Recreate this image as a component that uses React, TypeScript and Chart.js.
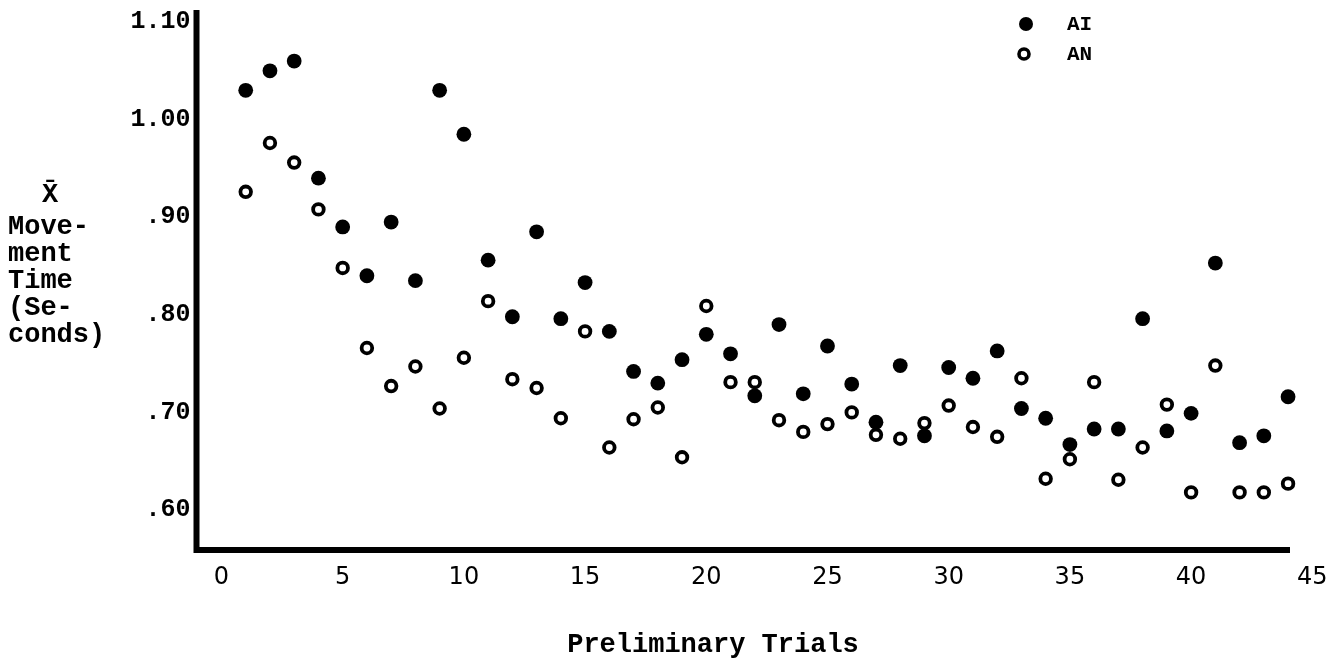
import React, { useEffect, useRef } from "react";
import { Chart, registerables } from "chart.js";

Chart.register(...registerables);

// ---- data ----
const trials = [
  1, 2, 3, 4, 5, 6, 7, 8, 9, 10, 11, 12, 13, 14, 15, 16, 17, 18, 19, 20, 21, 22,
  23, 24, 25, 26, 27, 28, 29, 30, 31, 32, 33, 34, 35, 36, 37, 38, 39, 40, 41, 42, 43, 44,
];
const aiValues = [
  1.03, 1.05, 1.06, 0.94, 0.89, 0.84, 0.895, 0.835, 1.03, 0.985, 0.856, 0.798, 0.885, 0.796,
  0.833, 0.783, 0.742, 0.73, 0.754, 0.78, 0.76, 0.717, 0.79, 0.719, 0.768, 0.729, 0.69, 0.748,
  0.676, 0.746, 0.735, 0.763, 0.704, 0.694, 0.667, 0.683, 0.683, 0.796, 0.681, 0.699, 0.853,
  0.669, 0.676, 0.716,
];
const anValues = [
  0.926, 0.976, 0.956, 0.908, 0.848, 0.766, 0.727, 0.747, 0.704, 0.756, 0.814, 0.734, 0.725,
  0.694, 0.783, 0.664, 0.693, 0.705, 0.654, 0.809, 0.731, 0.731, 0.692, 0.68, 0.688, 0.7,
  0.677, 0.673, 0.689, 0.707, 0.685, 0.675, 0.735, 0.632, 0.652, 0.731, 0.631, 0.664, 0.708,
  0.618, 0.748, 0.618, 0.618, 0.627,
];
const seriesNames = ["AI", "AN"];
const xTickValues = [0, 5, 10, 15, 20, 25, 30, 35, 40, 45];
const yTickValues = [0.6, 0.7, 0.8, 0.9, 1.0, 1.1];
const xTitle = "Preliminary Trials";
const yTitleLines = ["X\u0304", "Move-", "ment", "Time", "(Se-", "conds)"];

const X_MIN = -1.03;
const X_MAX = 44.08;
const Y_MIN = 0.559;
const Y_MAX = 1.1123;

const MONO = "'Liberation Mono', 'DejaVu Sans Mono', monospace";

const decorPlugin = {
  id: "decor",
  beforeDatasetsDraw(chart: any) {
    const { ctx, chartArea: a } = chart;
    ctx.save();
    ctx.strokeStyle = "#000";
    ctx.lineWidth = 6;
    ctx.lineJoin = "miter";
    ctx.lineCap = "butt";
    ctx.beginPath();
    ctx.moveTo(a.left, a.top);
    ctx.lineTo(a.left, a.bottom);
    ctx.lineTo(a.right, a.bottom);
    ctx.stroke();
    ctx.restore();
  },
  afterDraw(chart: any) {
    const { ctx } = chart;
    ctx.save();
    ctx.fillStyle = "#000";
    ctx.textBaseline = "middle";

    // y-axis title (horizontal, stacked lines)
    ctx.font = `bold 27px ${MONO}`;
    ctx.textAlign = "center";
    ctx.fillText(yTitleLines[0], 50, 195);
    ctx.textAlign = "left";
    for (let i = 1; i < yTitleLines.length; i++) {
      ctx.fillText(yTitleLines[i], 8, 227 + (i - 1) * 27);
    }

    // x-axis title
    ctx.textAlign = "center";
    ctx.font = `bold 27px ${MONO}`;
    ctx.fillText(xTitle, 713, 645);

    // legend
    const lx = 1026;
    const tx = 1067;
    ctx.beginPath();
    ctx.arc(lx, 24, 7, 0, Math.PI * 2);
    ctx.fill();
    ctx.beginPath();
    ctx.lineWidth = 3.6;
    ctx.strokeStyle = "#000";
    ctx.arc(lx - 2, 54, 5, 0, Math.PI * 2);
    ctx.stroke();
    ctx.textAlign = "left";
    ctx.font = `bold 21px ${MONO}`;
    ctx.fillText(seriesNames[0], tx, 25);
    ctx.fillText(seriesNames[1], tx, 55);
    ctx.restore();
  },
};

export default function App() {
  const canvasRef = useRef<HTMLCanvasElement | null>(null);

  useEffect(() => {
    const canvas = canvasRef.current;
    if (!canvas) return;
    const chart = new Chart(canvas, {
      type: "scatter",
      data: {
        datasets: [
          {
            label: seriesNames[0],
            data: trials.map((t, i) => ({ x: t, y: aiValues[i] })),
            pointRadius: 7.4,
            pointBackgroundColor: "#000",
            pointBorderWidth: 0,
            pointBorderColor: "#000",
            showLine: false,
            clip: false,
            order: 2,
          },
          {
            label: seriesNames[1],
            data: trials.map((t, i) => ({ x: t, y: anValues[i] })),
            pointRadius: 5.3,
            pointBackgroundColor: "#fff",
            pointBorderWidth: 3.8,
            pointBorderColor: "#000",
            showLine: false,
            clip: false,
            order: 1,
          },
        ],
      },
      options: {
        animation: false,
        responsive: false,
        maintainAspectRatio: false,
        events: [],
        layout: { padding: { left: 0, top: 10, right: 40, bottom: 0 } },
        plugins: {
          legend: { display: false },
          tooltip: { enabled: false },
          title: { display: false },
        },
        scales: {
          x: {
            type: "linear",
            min: X_MIN,
            max: X_MAX,
            grid: { display: false, drawTicks: false },
            border: { display: false },
            afterBuildTicks: (s: any) => {
              s.ticks = xTickValues.map((v) => ({ value: v }));
            },
            afterFit: (s: any) => {
              s.height = 110;
              s.paddingLeft = 0;
              s.paddingRight = 0;
            },
            ticks: {
              autoSkip: false,
              maxRotation: 0,
              padding: 13,
              color: "#000",
              font: { family: "'DejaVu Sans', sans-serif", size: 24 },
              callback: (v: any) => String(v),
            },
          },
          y: {
            type: "linear",
            min: Y_MIN,
            max: Y_MAX,
            grid: { display: false, drawTicks: false },
            border: { display: false },
            afterBuildTicks: (s: any) => {
              s.ticks = yTickValues.map((v) => ({ value: v }));
            },
            afterFit: (s: any) => {
              s.width = 196.5;
              s.paddingTop = 0;
              s.paddingBottom = 0;
            },
            ticks: {
              autoSkip: false,
              padding: 6,
              color: "#000",
              font: { family: MONO, size: 25, weight: "bold" },
              callback: (v: any) => {
                const n = Number(v);
                const s = n.toFixed(2);
                return n >= 1 ? s : s.slice(1);
              },
            },
          },
        },
      },
      plugins: [decorPlugin],
    } as any);
    return () => chart.destroy();
  }, []);

  return (
    <div
      style={{
        position: "fixed",
        left: 0,
        top: 0,
        width: 1330,
        height: 660,
        background: "#fff",
      }}
    >
      <canvas ref={canvasRef} width={1330} height={660} style={{ display: "block" }} />
    </div>
  );
}
